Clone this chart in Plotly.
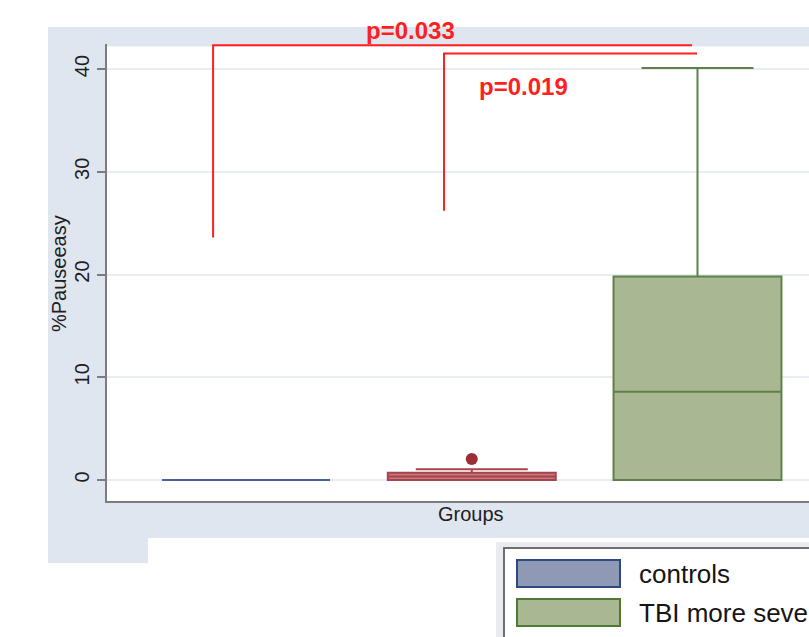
import plotly.graph_objects as go

# ---- data -------------------------------------------------------------
groups = ["controls", "TBI less severe", "TBI more severe"]
group_pos = [0, 1, 2]
q1 = [0.0, 0.0, 0.0]
median = [0.0, 0.35, 8.6]
q3 = [0.0, 0.7, 19.8]
lower_fence = [0.0, 0.0, 0.0]
upper_fence = [0.0, 1.05, 40.1]

outlier_group = [1]
outlier_value = [2.05]

# significance brackets (left leg, top bar)
bracket_left = [-0.146, 0.877]
bracket_right = [1.976, 1.998]
bracket_low = [23.6, 26.2]
bracket_top = [42.3, 41.5]
p_labels = ["p=0.033", "p=0.019"]
p_label_x = [0.73, 1.23]
p_label_y = [42.3, 38.25]
p_label_shift = [15, 0]

y_ticks = [0, 10, 20, 30, 40]

# ---- styling ----------------------------------------------------------
fills = ["#8e9ab5", "#c5797f", "#a9b893"]
edges = ["#4a5f9c", "#a9434b", "#5f8048"]
outlier_color = "#9b2e36"
red = "#ff1f1f"
region_bg = "#e0e6ef"
FONT = "Liberation Sans, Arial, sans-serif"
TEXT = "#202020"

W, H = 809, 637
L, R, T, B = 107, 809, 44, 501


def px(x):
    return (x - L) / (R - L)


def py(y):
    return (B - y) / (B - T)


fig = go.Figure()

for i, g in enumerate(groups):
    fig.add_trace(go.Box(
        x=[group_pos[i]], q1=[q1[i]], median=[median[i]], q3=[q3[i]],
        lowerfence=[lower_fence[i]], upperfence=[upper_fence[i]],
        width=0.744, whiskerwidth=0.667, boxpoints=False,
        fillcolor=fills[i], line=dict(color=edges[i], width=2),
        name=g, showlegend=False, hoverinfo="skip",
    ))

fig.add_trace(go.Scatter(
    x=[group_pos[g] for g in outlier_group], y=outlier_value, mode="markers",
    marker=dict(size=12, color=outlier_color), showlegend=False, hoverinfo="skip",
))

shapes = [
    # graph region background
    dict(type="rect", xref="paper", yref="paper", x0=px(48), x1=px(812),
         y0=py(538), y1=py(27), fillcolor=region_bg, line_width=0, layer="below"),
    dict(type="rect", xref="paper", yref="paper", x0=px(48), x1=px(148),
         y0=py(563), y1=py(537), fillcolor=region_bg, line_width=0, layer="below"),
    # plot region
    dict(type="rect", xref="paper", yref="paper", x0=0, x1=px(812),
         y0=0, y1=py(46.5), fillcolor="white", line_width=0, layer="below"),
    # legend frame
    dict(type="rect", xref="paper", yref="paper", x0=px(496), x1=px(812),
         y0=py(640), y1=py(542), fillcolor="#e9ebf1", line_width=0, layer="below"),
    dict(type="rect", xref="paper", yref="paper", x0=px(504), x1=px(815),
         y0=py(645), y1=py(548), fillcolor="white",
         line=dict(color="#6e6e6e", width=2), layer="below"),
]

# legend swatches and labels (first column of the key)
legend_rows = [0, 2]
legend_edges = ["#2d4a80", "#a9434b", "#4f7a33"]
for row, gi in enumerate(legend_rows):
    y_top = 560 + row * 39
    shapes.append(dict(type="rect", xref="paper", yref="paper",
                       x0=px(517), x1=px(620), y0=py(y_top + 27), y1=py(y_top),
                       fillcolor=fills[gi], line=dict(color=legend_edges[gi], width=2)))

for i in range(len(p_labels)):
    shapes.append(dict(
        type="path", xref="x", yref="y", layer="above",
        path=(f"M {bracket_left[i]},{bracket_low[i]} L {bracket_left[i]},{bracket_top[i]} "
              f"L {bracket_right[i]},{bracket_top[i]}"),
        line=dict(color=red, width=2),
    ))

annotations = []
for i, lab in enumerate(p_labels):
    annotations.append(dict(
        x=p_label_x[i], y=p_label_y[i], xref="x", yref="y", text=f"<b>{lab}</b>",
        showarrow=False, yshift=p_label_shift[i], xanchor="center", yanchor="middle",
        font=dict(family=FONT, size=24, color=red),
    ))

for row, gi in enumerate(legend_rows):
    annotations.append(dict(
        x=px(637), y=py(574 + row * 39), xref="paper", yref="paper", text=groups[gi],
        showarrow=False, xanchor="left", yanchor="middle",
        font=dict(family=FONT, size=26, color="#151515"),
    ))

annotations.append(dict(
    x=px(471), y=py(514), xref="paper", yref="paper", text="Groups",
    showarrow=False, xanchor="center", yanchor="middle",
    font=dict(family=FONT, size=20, color=TEXT),
))
annotations.append(dict(
    x=px(59), y=py(273), xref="paper", yref="paper", text="%Pauseeasy",
    showarrow=False, xanchor="center", yanchor="middle", textangle=-90,
    font=dict(family=FONT, size=20, color=TEXT),
))

fig.update_layout(
    width=W, height=H,
    margin=dict(l=L, r=W - R, t=T, b=H - B, pad=0),
    paper_bgcolor="white", plot_bgcolor="rgba(0,0,0,0)",
    boxmode="overlay", showlegend=False,
    shapes=shapes, annotations=annotations,
    xaxis=dict(range=[-0.616, 2.494], showgrid=False, zeroline=False,
               showticklabels=False, ticks="", showline=True,
               linecolor="#7c7c7c", linewidth=2),
    yaxis=dict(range=[-2.044, 42.433], tickvals=y_ticks, zeroline=False,
               showgrid=True, gridcolor="#e8ecf3", gridwidth=2,
               showline=True, linecolor="#7c7c7c", linewidth=2,
               ticks="outside", ticklen=8, tickcolor="#7c7c7c", tickwidth=1.5,
               tickangle=-90, ticklabelstandoff=0,
               tickfont=dict(family=FONT, size=20, color=TEXT)),
)

fig.write_html("out.html")
